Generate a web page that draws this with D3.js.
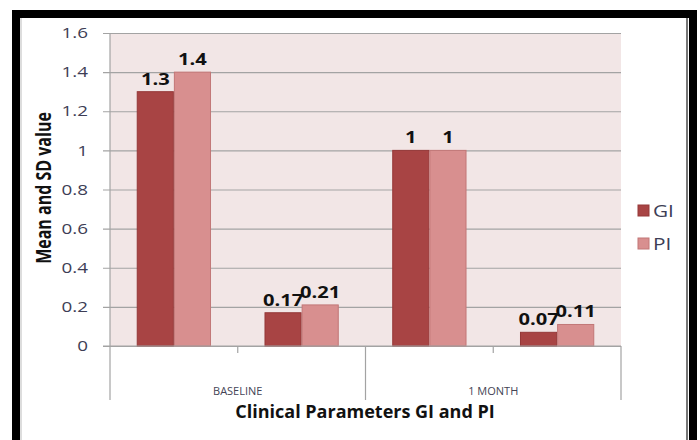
<!DOCTYPE html>
<html>
<head>
<meta charset="utf-8">
<script src="https://cdn.jsdelivr.net/npm/d3@7"></script>
<style>
  html, body { margin: 0; padding: 0; background: #fff; }
  svg { display: block; }
  text { font-family: "Open Sans", "Liberation Sans", sans-serif; }
</style>
</head>
<body>
<svg id="chart" width="700" height="440"></svg>
<script>
// Inner categories (two per time point) and the outer group labels
const categories = ["BASELINE-a", "BASELINE-b", "1 MONTH-a", "1 MONTH-b"];
const groups = ["BASELINE", "1 MONTH"];
const seriesNames = ["GI", "PI"];
const giValues = [1.3, 0.17, 1, 0.07];
const piValues = [1.4, 0.21, 1, 0.11];
const yTicks = [0, 0.2, 0.4, 0.6, 0.8, 1, 1.2, 1.4, 1.6];
const yTickLabels = ["0", "0.2", "0.4", "0.6", "0.8", "1", "1.2", "1.4", "1.6"];

const colors = { GI: "#a84444", PI: "#d88f8f" };
const strokes = { GI: "#953838", PI: "#c27777" };
const wide = 1.3; // horizontal stretch used for the chart's lettering

const svg = d3.select("#chart");

// Outer frame
svg.append("rect").attr("x", 16).attr("y", 14).attr("width", 677).attr("height", 432)
  .attr("fill", "#fff").attr("stroke", "#000").attr("stroke-width", 8);
svg.append("line").attr("x1", 687).attr("x2", 687).attr("y1", 18).attr("y2", 440)
  .attr("stroke", "#777").attr("stroke-width", 2);
svg.append("line").attr("x1", 21).attr("x2", 21).attr("y1", 18).attr("y2", 440)
  .attr("stroke", "#bbb").attr("stroke-width", 1);

const plot = { left: 110, right: 621, top: 33, bottom: 346 };

const y = d3.scaleLinear().domain([0, 1.6]).range([plot.bottom, plot.top]);
const x0 = d3.scaleBand().domain(categories).range([plot.left, plot.right]).padding(0);
const x1 = d3.scaleBand().domain(seriesNames).range([0, x0.bandwidth()])
  .paddingInner(0).paddingOuter(0.72);

const rows = categories.map((c, i) => ({ cat: c, GI: giValues[i], PI: piValues[i] }));

// Plot background
svg.append("rect").attr("x", plot.left).attr("y", plot.top)
  .attr("width", plot.right - plot.left).attr("height", plot.bottom - plot.top)
  .attr("fill", "#f2e6e6");

// Horizontal gridlines with tick stubs to the left
const yAxis = d3.axisLeft(y).tickValues(yTicks)
  .tickSize(-(plot.right - plot.left) - 7)
  .tickFormat((d, i) => yTickLabels[i]);
const gy = svg.append("g").attr("transform", `translate(${plot.right},0)`).call(yAxis);
gy.select(".domain").remove();
gy.selectAll(".tick line").attr("stroke", "#a3a3a3").attr("stroke-width", 1.2)
  .attr("x1", 0).attr("x2", -(plot.right - plot.left) - 7);
gy.selectAll(".tick text").remove();

// Y tick labels
svg.append("g").selectAll("text").data(yTicks).join("text")
  .attr("transform", d => `translate(88,${y(d)}) scale(${wide},1)`)
  .attr("dy", "0.36em")
  .attr("text-anchor", "end").attr("font-size", 14.5).attr("fill", "#3d3d55")
  .text((d, i) => yTickLabels[i]);

// Vertical axis line
svg.append("line").attr("x1", plot.left).attr("x2", plot.left)
  .attr("y1", plot.top).attr("y2", plot.bottom).attr("stroke", "#a3a3a3").attr("stroke-width", 1.2);

// Bars
const catG = svg.append("g").selectAll("g").data(rows).join("g")
  .attr("transform", d => `translate(${x0(d.cat)},0)`);
catG.selectAll("rect").data(d => seriesNames.map(s => ({ s, v: d[s] }))).join("rect")
  .attr("x", d => x1(d.s) + 0.5).attr("y", d => y(d.v))
  .attr("width", x1.bandwidth() - 1).attr("height", d => y(0) - y(d.v))
  .attr("fill", d => colors[d.s]).attr("stroke", d => strokes[d.s]).attr("stroke-width", 1);

// Value labels
catG.selectAll("text").data(d => seriesNames.map(s => ({ s, v: d[s] }))).join("text")
  .attr("transform", d => `translate(${x1(d.s) + x1.bandwidth() / 2},${y(d.v) - 7}) scale(${wide},1)`)
  .attr("text-anchor", "middle").attr("font-size", 15.5).attr("font-weight", "bold")
  .attr("fill", "#111").text(d => String(d.v));

// Category axis: baseline, inner ticks and group separators
svg.append("line").attr("x1", plot.left - 7).attr("x2", plot.right)
  .attr("y1", plot.bottom).attr("y2", plot.bottom).attr("stroke", "#a3a3a3").attr("stroke-width", 1.2);
const groupEdges = [plot.left, x0(categories[2]), plot.right];
svg.append("g").selectAll("line").data(groupEdges).join("line")
  .attr("x1", d => d).attr("x2", d => d).attr("y1", plot.bottom).attr("y2", 400)
  .attr("stroke", "#a3a3a3").attr("stroke-width", 1.2);
const innerTicks = [x0(categories[1]), x0(categories[3])];
svg.append("g").selectAll("line").data(innerTicks).join("line")
  .attr("x1", d => d).attr("x2", d => d).attr("y1", plot.bottom).attr("y2", plot.bottom + 7)
  .attr("stroke", "#a3a3a3").attr("stroke-width", 1.2);

// Group labels
svg.append("g").selectAll("text").data(groups).join("text")
  .attr("x", (d, i) => x0(categories[i * 2 + 1]))
  .attr("y", 395).attr("text-anchor", "middle")
  .attr("font-size", 11).attr("fill", "#444455").text(d => d);

// Axis titles
svg.append("text").attr("x", 365).attr("y", 418).attr("text-anchor", "middle")
  .attr("font-size", 18).attr("font-weight", "bold").attr("fill", "#111")
  .text("Clinical Parameters GI and PI");
svg.append("text").attr("transform", `translate(51,188) scale(${wide},1) rotate(-90)`)
  .attr("text-anchor", "middle").attr("font-size", 16).attr("font-weight", "bold")
  .attr("fill", "#111").text("Mean and SD value");

// Legend
const legend = svg.append("g").selectAll("g").data(seriesNames).join("g")
  .attr("transform", (d, i) => `translate(638,${205 + i * 33})`);
legend.append("rect").attr("width", 11).attr("height", 11)
  .attr("fill", d => colors[d]).attr("stroke", d => strokes[d]);
legend.append("text").attr("transform", `translate(15,6) scale(${wide},1)`).attr("dy", "0.36em")
  .attr("font-size", 16).attr("fill", "#3d3d55").text(d => d);
</script>
</body>
</html>
